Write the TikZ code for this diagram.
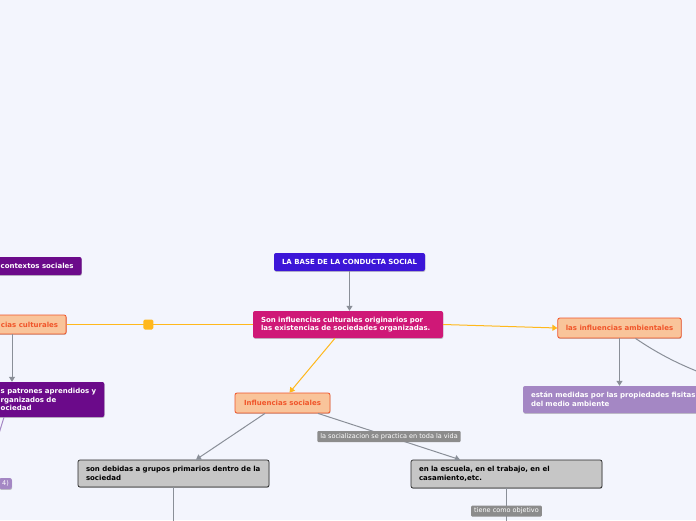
\documentclass[tikz,border=0pt]{standalone}
\usepackage{fontspec}
\setmainfont{DejaVu Sans}
\usetikzlibrary{arrows.meta, shadows}

\definecolor{fondo}{HTML}{F3F5FD}
\definecolor{azul}{HTML}{3C16D8}
\definecolor{rosa}{HTML}{CF1877}
\definecolor{salmon}{HTML}{F9C49A}
\definecolor{rojizo}{HTML}{F0552A}
\definecolor{ambar}{HTML}{FFB81C}
\definecolor{lila}{HTML}{A487C4}
\definecolor{morado}{HTML}{6B0A8A}
\definecolor{plomo}{HTML}{C6C6C6}
\definecolor{gristrazo}{HTML}{8A8F98}
\definecolor{grisetiq}{HTML}{8C8C8C}

\begin{document}
\begin{tikzpicture}[
        x=1pt,
        y=-1pt,
        >={Triangle[length=5pt, width=6pt]},
        font=\fontsize{7}{8.6}\selectfont\bfseries,
        caja/.style={rounded corners=2pt, inner xsep=8pt, inner ysep=0pt, align=left,
            drop shadow={shadow xshift=0.4pt, shadow yshift=-0.9pt, opacity=0.3, fill=black!70}},
        titulo/.style={caja, fill=azul, text=white, align=center},
        rosada/.style={caja, fill=rosa, text=white},
        naranjo/.style={caja, fill=salmon, draw=rojizo, line width=0.8pt, text=rojizo, align=center},
        lilacaja/.style={caja, fill=lila, text=white},
        moradacaja/.style={caja, fill=morado, text=white},
        griscaja/.style={caja, fill=plomo, draw=black!85, line width=0.7pt, text=black},
        etiqueta/.style={fill=grisetiq, text=white, rounded corners=1pt, inner xsep=3pt,
            inner ysep=0pt, minimum height=11pt, font=\fontsize{6.5}{7.5}\selectfont},
        cuadro/.style={fill=ambar, rounded corners=1.5pt, minimum size=10pt, inner sep=0pt},
        gris/.style={draw=gristrazo, line width=1pt},
        naranja/.style={draw=ambar, line width=1pt}
    ]
    \useasboundingbox (0,0) rectangle (696,520);
    \clip (0,0) rectangle (696,520);
    \fill[fondo] (0,0) rectangle (696,520);

    % centro
    \node[titulo, minimum width=151pt, minimum height=18pt] (base) at (349.5,262) {LA BASE DE LA CONDUCTA SOCIAL};
    \node[rosada, text width=174pt, minimum height=27pt] (prop) at (348,324.5)
        {Son influencias culturales originarios por\\las existencias de sociedades organizadas.};

    % derecha
    \node[naranjo, minimum width=123pt, minimum height=20pt] (amb) at (619.5,328) {las influencias ambientales};
    \node[lilacaja, text width=170pt, minimum height=27pt] (fis) at (616,399.5)
        {están medidas por las propiedades fisitas\\del medio ambiente};

    % abajo
    \node[naranjo, minimum width=95pt, minimum height=20pt] (soc) at (282.5,403) {Influencias sociales};
    \node[griscaja, text width=175pt, minimum height=27pt] (deb) at (173.5,473.5)
        {son debidas a grupos primarios dentro de la\\sociedad};
    \node[griscaja, text width=175pt, minimum height=28pt] (esc) at (506.5,474)
        {en la escuela, en el trabajo, en el\\casamiento,etc.};

    % izquierda (cortada por el borde)
    \node[moradacaja, anchor=west, minimum height=18pt] (ctx) at (-7.5,266) {contextos sociales};
    \node[naranjo, anchor=west, minimum height=19pt] (cult) at (-7.5,324.5) {cias culturales};
    \node[moradacaja, anchor=west, minimum height=35pt] (pat) at (-7.5,399.5)
        {s patrones aprendidos y\\rganizados de\\ociedad};
    \node[lilacaja, anchor=east, minimum height=11pt, inner xsep=3pt,
        font=\fontsize{6.5}{7.5}\selectfont] (cuatro) at (12,483.5) {4)};

    \coordinate (xcult) at (12,0);
    \coordinate (xpat) at (4,0);
    \coordinate (patfin) at (-3,440);
    \coordinate (ambfin) at (712,377);
    \coordinate (debfin) at (173.5,530);
    \coordinate (escfin) at (506.5,534);

    % conectores
    \draw[gris, ->] (base.south) -- (base.south |- prop.north);
    \draw[naranja] (cult.east) -- node[cuadro, pos=0.44] (nudo) {} (prop.west);
    \draw[naranja, ->] (prop.east) -- (amb.west);
    \draw[naranja, ->] ([xshift=-13pt]prop.south) -- ([xshift=7pt]soc.north);
    \draw[gris, ->] (amb.south) -- (amb.south |- fis.north);
    \draw[gris] ([xshift=16pt]amb.south) .. controls (660,355) and (682,366) .. (ambfin);
    \draw[gris, ->] ([xshift=-17.5pt]soc.south) -- ([xshift=22.5pt]deb.north);
    \draw[gris, ->] ([xshift=35.5pt]soc.south) -- node[etiqueta] (vida) {la socializacion se practica en toda la vida}
        ([xshift=-46.5pt]esc.north);
    \draw[gris] (deb.south) -- (debfin);
    \draw[gris] (esc.south) -- node[etiqueta, pos=0.5] (obj) {tiene como objetivo} (escfin);
    \draw[gris, ->] (cult.south -| xcult) -- (pat.north -| xcult);
    \draw[draw=lila, line width=1pt] (pat.south -| xpat) -- (patfin);
\end{tikzpicture}
\end{document}
